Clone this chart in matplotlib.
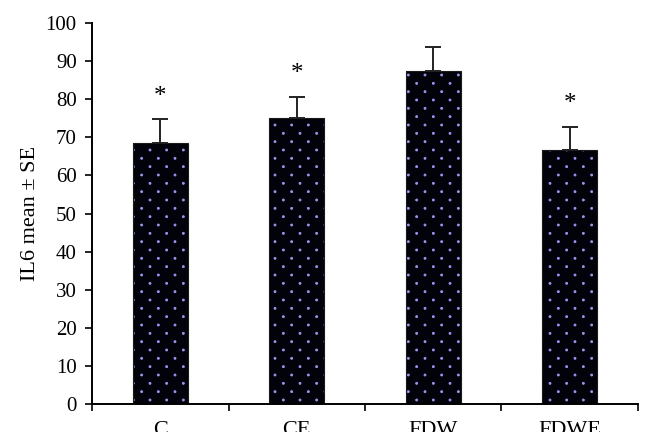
import numpy as np
import matplotlib
matplotlib.use('Agg')
import matplotlib.pyplot as plt
import matplotlib.hatch as mhatch
from matplotlib.path import Path
from matplotlib.patches import Rectangle

plt.rcParams['font.family'] = ['Liberation Serif', 'DejaVu Serif']
plt.rcParams['hatch.linewidth'] = 0.6

groups = ['C', 'CE', 'FDW', 'FDWE']
means = [68.4, 75.0, 87.4, 66.6]
se = [6.3, 5.6, 6.4, 6.1]
signif = ['*', '*', '', '*']


class StaggerDots(mhatch.HatchPatternBase):
    # dot rows at half the column spacing, every other row shifted
    filled = True

    def __init__(self, hatch, density):
        self.n = hatch.count('.') * density
        circ = Path.unit_circle()
        self.shape_vertices = circ.vertices
        self.shape_codes = circ.codes
        if self.n == 0:
            self.num_vertices = 0
        else:
            shapes = (self.n + 1) ** 2 + self.n ** 2
            self.num_vertices = shapes * len(self.shape_vertices)

    def set_vertices_and_codes(self, vertices, codes):
        step = 1.0 / self.n
        shape = self.shape_vertices * 0.010
        v_parts, c_parts = [], []
        for row in range(2 * self.n + 1):
            y = row * step / 2
            if row % 2 == 0:
                cols = np.linspace(0, 1, self.n + 1)
            else:
                cols = np.linspace(step / 2, 1 - step / 2, self.n)
            for xc in cols:
                v_parts.append(shape + [xc, y])
                c_parts.append(self.shape_codes)
        np.concatenate(v_parts, out=vertices)
        np.concatenate(c_parts, out=codes)


mhatch._hatch_types[mhatch._hatch_types.index(mhatch.SmallFilledCircles)] = StaggerDots

fig = plt.figure(figsize=(6.53, 4.46), dpi=100)
ax = fig.add_axes([0.1409, 0.0942, 0.8361, 0.8542])

x = list(range(len(groups)))
# hatch colour follows the edge colour, so the outline is drawn separately
ax.bar(x, means, width=0.40, color='#02020a', edgecolor='#9d99f2',
       linewidth=0, hatch='.', zorder=2)
ax.bar(x, means, width=0.40, fill=False, edgecolor='#1a1a1a',
       linewidth=0.8, zorder=2)
ax.errorbar(x, means, yerr=[[0] * len(se), se], fmt='none', ecolor='#222222',
            elinewidth=1.4, capsize=5.5, capthick=1.4, zorder=3)

for xi, m, s, lab in zip(x, means, se, signif):
    if lab:
        ax.text(xi, m + s + 6.0, lab, ha='center', va='center', fontsize=18)

ax.set_xlim(-0.5, 3.5)
ax.set_ylim(0, 100)
ax.set_yticks(range(0, 101, 10))
ax.set_xticks([-0.5, 0.5, 1.5, 2.5, 3.5])
ax.set_xticklabels([])
ax.set_xticks(x, minor=True)
ax.set_xticklabels(groups, minor=True, fontsize=16)
ax.tick_params(axis='x', which='minor', length=0, pad=12)
ax.tick_params(axis='x', which='major', length=5, width=1.2, direction='out')
ax.tick_params(axis='y', length=5, width=1.2, direction='out', labelsize=15, pad=6)
for side in ['top', 'right']:
    ax.spines[side].set_visible(False)
for side in ['left', 'bottom']:
    ax.spines[side].set_linewidth(1.4)

ax.set_ylabel('IL6 mean \u00b1 SE', fontsize=16, labelpad=4)

# the source image is cut off just below the category labels
fig.patches.append(Rectangle((0, 0), 1, 14 / 446, transform=fig.transFigure,
                             facecolor='white', edgecolor='none', zorder=10))

fig.savefig('out.png', dpi=100)
